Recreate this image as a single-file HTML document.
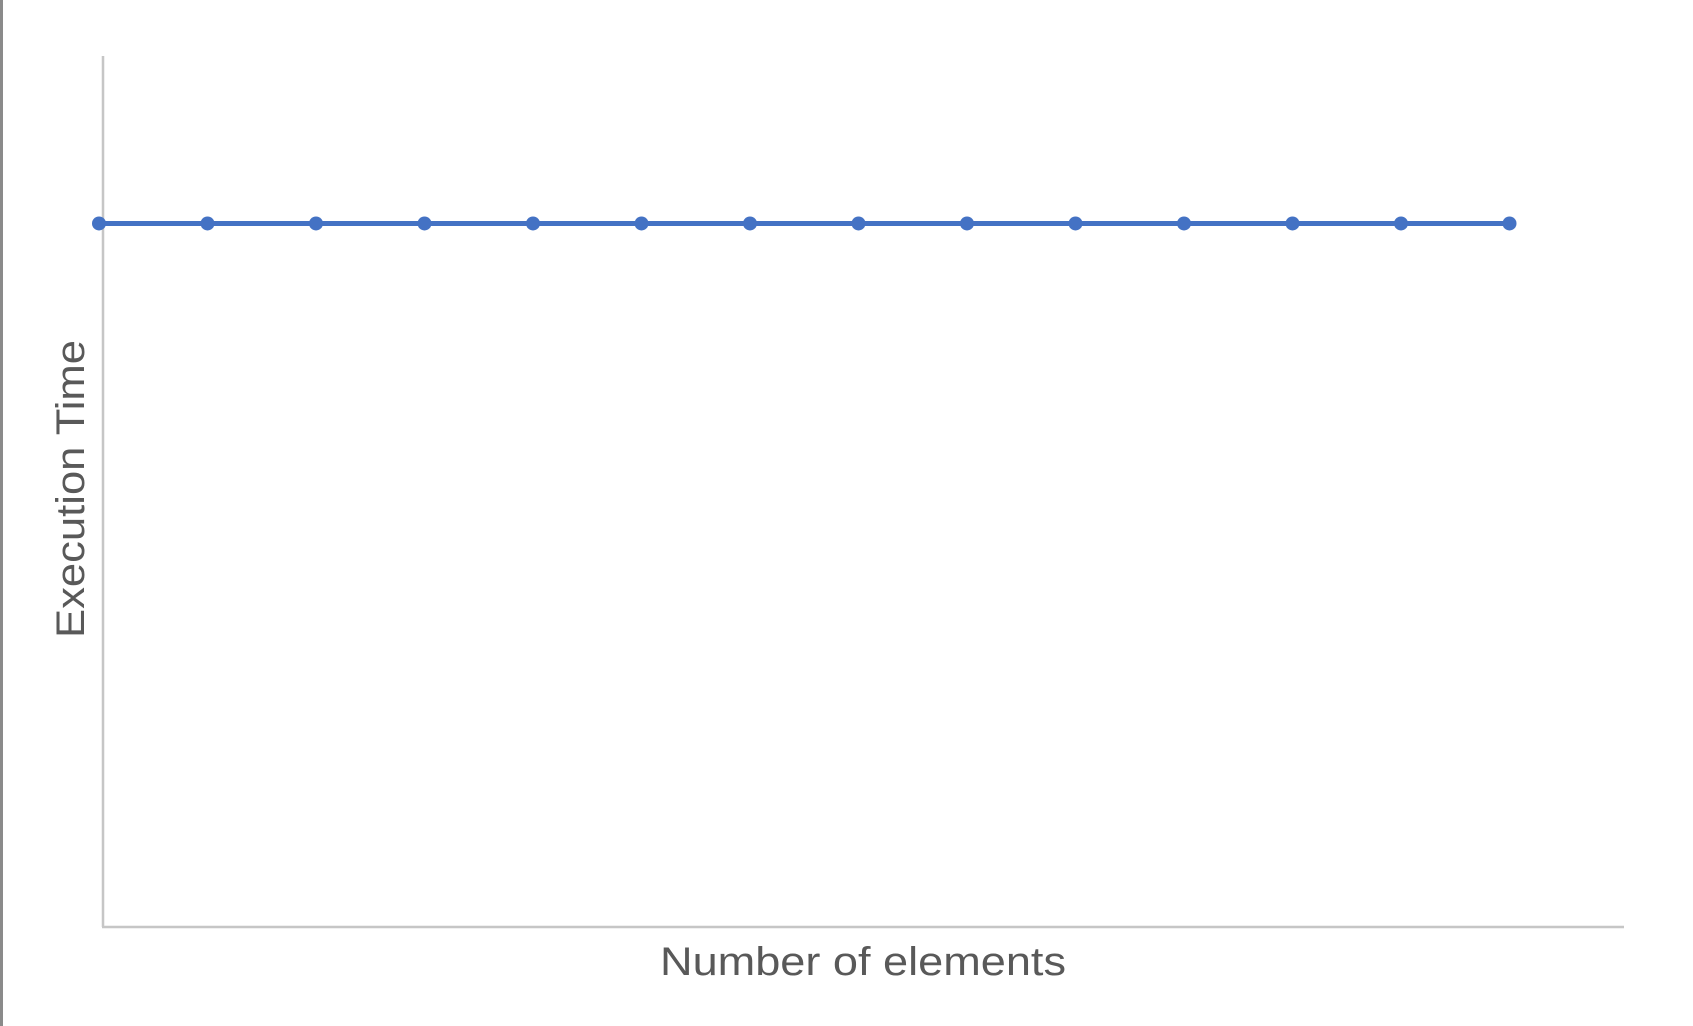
<!DOCTYPE html>
<html><head><meta charset="utf-8"><style>
html,body{margin:0;padding:0;background:#fff;}
svg{display:block;font-family:"Liberation Sans",sans-serif;}
</style></head><body>
<svg width="1693" height="1026">
<rect x="0" y="0" width="3" height="1026" fill="#8a8a8a"/>
<line x1="103" y1="56" x2="103" y2="927" stroke="#c6c6c6" stroke-width="2.5"/>
<line x1="102" y1="927" x2="1624" y2="927" stroke="#c6c6c6" stroke-width="2.5"/>
<text x="863" y="975" text-anchor="middle" font-size="40" fill="#595959" textLength="406" lengthAdjust="spacingAndGlyphs">Number of elements</text>
<text transform="translate(84,489) rotate(-90)" text-anchor="middle" font-size="40" fill="#595959" textLength="298" lengthAdjust="spacingAndGlyphs">Execution Time</text>
<g id="series"></g>
</svg>
<script>
const categories = [1,2,3,4,5,6,7,8,9,10,11,12,13,14];
const values = [1,1,1,1,1,1,1,1,1,1,1,1,1,1];
const yMax = 1.238;
const x0 = 99, dx = 108.5, yTop = 56, yBot = 927;
function xScale(i){ return x0 + i*dx; }
function yScale(v){ return yBot - (v/yMax)*(yBot-yTop); }
const g = document.getElementById('series');
const ns = 'http://www.w3.org/2000/svg';
const pts = values.map((v,i)=>xScale(i)+','+yScale(v)).join(' ');
const pl = document.createElementNS(ns,'polyline');
pl.setAttribute('points', pts);
pl.setAttribute('fill','none');
pl.setAttribute('stroke','#4472c4');
pl.setAttribute('stroke-width','5');


g.appendChild(pl);
values.forEach((v,i)=>{
  const c = document.createElementNS(ns,'circle');
  c.setAttribute('cx', xScale(i));
  c.setAttribute('cy', yScale(v));
  c.setAttribute('r', 7);
  c.setAttribute('fill','#4472c4');
  
  
  g.appendChild(c);
});
</script>
</body></html>
